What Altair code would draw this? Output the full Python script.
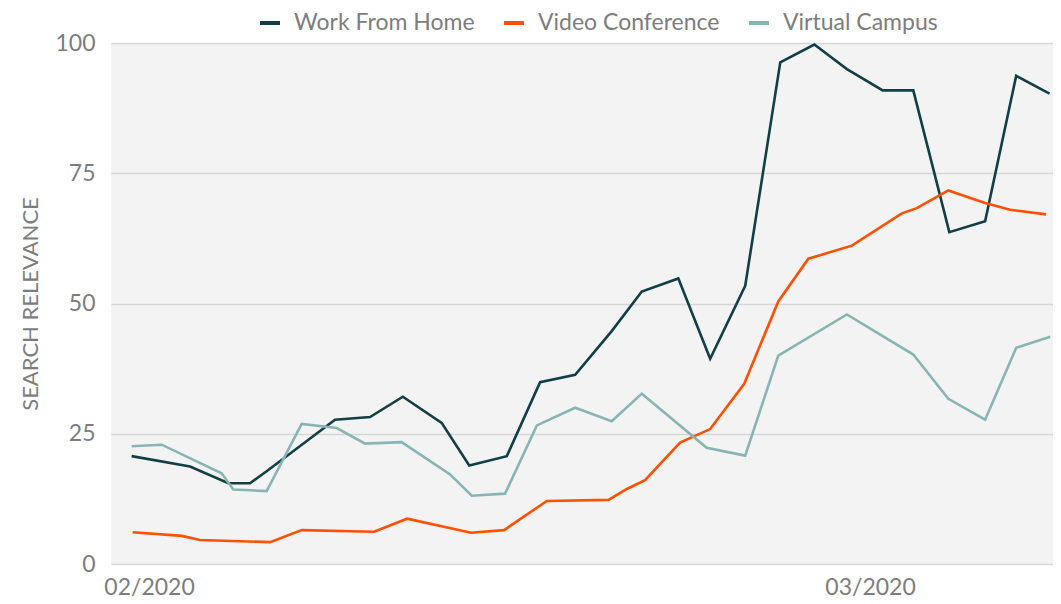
import altair as alt
import pandas as pd

SERIES = ["Work From Home", "Video Conference", "Virtual Campus"]
COLORS = ["#123f47", "#ff5000", "#88b5b4"]

# sample times, in days after 1 Feb 2020
wfh_days = [-0.70, 1.65, 3.19, 4.06, 4.73, 7.48, 8.89, 10.21, 11.77, 12.88, 14.39, 15.73, 17.14, 18.61,
            19.82, 21.29, 22.57, 23.98, 25.39, 26.76, 28.07, 29.51, 30.74, 32.19, 33.63, 34.88, 36.22]
wfh_vals = [20.7, 18.7, 15.5, 15.5, 17.8, 27.7, 28.2, 32.1, 27.1, 18.9, 20.7, 34.9, 36.3, 44.7,
            52.3, 54.8, 39.4, 53.4, 96.3, 99.7, 95.0, 90.9, 90.9, 63.7, 65.8, 93.7, 90.3]

vc_days = [-0.66, 1.32, 2.05, 4.87, 6.14, 9.05, 10.38, 12.95, 14.28, 16.00, 18.48, 19.22, 19.95,
           21.36, 22.57, 23.94, 25.31, 26.52, 28.27, 30.28, 30.88, 32.15, 33.63, 34.63, 36.08]
vc_vals = [6.1, 5.4, 4.6, 4.2, 6.5, 6.2, 8.7, 6.0, 6.5, 12.1, 12.3, 14.4, 16.1,
           23.3, 25.9, 34.6, 50.4, 58.6, 61.1, 67.3, 68.3, 71.7, 69.3, 68.0, 67.1]

camp_days = [-0.70, 0.51, 2.92, 3.39, 4.73, 6.14, 7.55, 8.69, 10.16, 12.11, 12.98, 14.32, 15.60,
             17.14, 18.61, 19.82, 22.43, 23.98, 25.31, 28.07, 30.74, 32.15, 33.63, 34.88, 36.25]
camp_vals = [22.6, 22.9, 17.4, 14.3, 14.0, 26.9, 26.1, 23.1, 23.4, 17.2, 13.1, 13.5, 26.6,
             30.0, 27.4, 32.7, 22.3, 20.8, 40.0, 47.9, 40.2, 31.7, 27.7, 41.5, 43.6]

Y_TICKS = [0, 25, 50, 75, 100]

start = pd.Timestamp("2020-02-01")
frames = []
for name, days, vals in [(SERIES[0], wfh_days, wfh_vals),
                         (SERIES[1], vc_days, vc_vals),
                         (SERIES[2], camp_days, camp_vals)]:
    frames.append(pd.DataFrame({
        "series": name,
        "date": start + pd.to_timedelta(days, unit="D"),
        "value": vals,
    }))
df = pd.concat(frames, ignore_index=True)
df["date"] = df["date"].dt.strftime("%Y-%m-%dT%H:%M:%S")

grey = "#7d7d7d"

chart = alt.Chart(df).mark_line(strokeWidth=2.6).encode(
    x=alt.X(
        "date:T",
        scale=alt.Scale(domain=[
            alt.DateTime(year=2020, month=1, date=30, hours=11, minutes=17),
            alt.DateTime(year=2020, month=3, date=8, hours=8, minutes=38),
        ]),
        axis=alt.Axis(
            values=[alt.DateTime(year=2020, month=2, date=1), alt.DateTime(year=2020, month=3, date=1)],
            format="%m/%Y", grid=False, domain=False, ticks=False, labelPadding=12,
            labelFontSize=23, labelColor=grey, labelFlush=False, title=None,
        ),
    ),
    y=alt.Y(
        "value:Q",
        scale=alt.Scale(domain=[0, 100], nice=False),
        axis=alt.Axis(
            values=Y_TICKS, title="SEARCH RELEVANCE", domain=False, ticks=False,
            labelPadding=16, labelFontSize=23, labelColor=grey,
            titleFontSize=22, titleFontWeight="normal", titleColor=grey, titlePadding=12,
            gridColor="#d6d6d6", gridWidth=1.5,
        ),
    ),
    color=alt.Color(
        "series:N",
        scale=alt.Scale(domain=SERIES, range=COLORS),
        legend=alt.Legend(
            title=None, orient="none", legendX=147, legendY=-32, direction="horizontal",
            symbolType="stroke", symbolStrokeWidth=4, symbolSize=400,
            labelFontSize=23, labelColor=grey, labelOffset=12, columnPadding=21,
            labelLimit=400,
        ),
    ),
).properties(
    width=942,
    height=521,
    autosize=alt.AutoSizeParams(type="none"),
    padding={"left": 103, "top": 35, "right": 0, "bottom": 36},
).configure(
    font="Lato",
).configure_view(
    fill="#f3f3f3", strokeWidth=0,
)

chart.save("out.html", embed_options={"renderer": "svg", "actions": False})
